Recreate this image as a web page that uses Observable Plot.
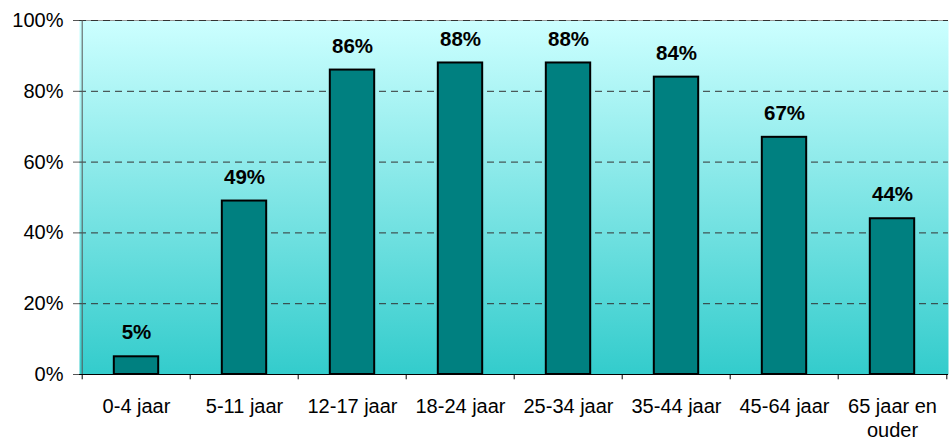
<!DOCTYPE html>
<html><head><meta charset="utf-8">
<script src="https://cdn.jsdelivr.net/npm/d3@7"></script>
<script src="https://cdn.jsdelivr.net/npm/@observablehq/plot@0.6"></script>
<style>body{margin:0;background:#fff;font-family:"Liberation Sans",Arial,sans-serif}</style>
</head><body><div id="chart"></div>
<script>
const categories = ["0-4 jaar","5-11 jaar","12-17 jaar","18-24 jaar","25-34 jaar","35-44 jaar","45-64 jaar","65 jaar en\nouder"];
const values = [5,49,86,88,88,84,67,44];
const yTicks = [0,20,40,60,80,100];

const data = categories.map((c,i)=>({cat:c, v:values[i]}));
const W=951,H=442,mL=79,mR=3,mT=20,mB=68;
const bw=(W-mL-mR)/categories.length;
const inset=(bw-45)/2;

const chart = Plot.plot({
  width:W,height:H,marginLeft:mL,marginRight:mR,marginTop:mT,marginBottom:mB,
  style:{fontFamily:'"Liberation Sans",Arial,sans-serif',fontSize:"20px",color:"#000",background:"#fff"},
  x:{domain:categories,padding:0,label:null},
  y:{domain:[0,100],label:null},
  marks:[
    Plot.frame({fill:"url(#bggrad)",stroke:null}),
    Plot.ruleY([100],{stroke:"#999",strokeWidth:1}),
    Plot.ruleY(yTicks.filter(d=>d>0),{stroke:"#333",strokeDasharray:"7,5",strokeWidth:1}),
    Plot.barY(data,{x:"cat",y:"v",fill:"#008080",stroke:"#000",strokeWidth:2,insetLeft:inset,insetRight:inset}),
    Plot.text(data,{x:"cat",y:"v",text:d=>d.v+"%",dy:-24,fontWeight:"bold",fontSize:20.5}),
    Plot.ruleX(categories,{x:d=>d,dx:-bw/2,y1:0,y2:-1.5,stroke:"#000",strokeWidth:1,clip:false}),
    Plot.ruleX([categories[categories.length-1]],{x:d=>d,dx:bw/2,y1:0,y2:-1.5,stroke:"#000",clip:false}),
    Plot.axisY({ticks:yTicks,tickFormat:d=>d+"%",tickSize:6,tickPadding:10,fontSize:20,stroke:"#555"}),
    Plot.axisX({tickSize:0,tickPadding:21,fontSize:20,lineHeight:1.2}),
    Plot.ruleX([0],{x:()=>categories[0],dx:-bw/2,stroke:"#555"}),
    Plot.ruleY([0],{stroke:"#000",strokeWidth:1})
  ]
});
const svg = d3.select(chart);
const defs = svg.insert("defs",":first-child");
const g = defs.append("linearGradient").attr("id","bggrad").attr("x1",0).attr("y1",0).attr("x2",0).attr("y2",1);
g.append("stop").attr("offset","0%").attr("stop-color","#ccffff");
g.append("stop").attr("offset","100%").attr("stop-color","#33cccc");
document.getElementById("chart").appendChild(chart);
</script></body></html>
